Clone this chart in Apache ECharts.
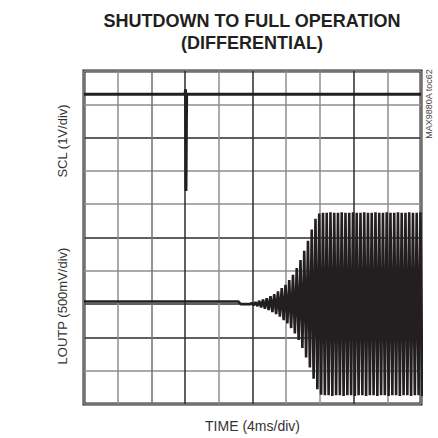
<!DOCTYPE html>
<html>
<head>
<meta charset="utf-8">
<script src="https://cdn.jsdelivr.net/npm/echarts@6/dist/echarts.min.js"></script>
<style>
  html, body { margin: 0; padding: 0; background: #fff; }
  #chart { width: 438px; height: 438px; }
</style>
</head>
<body>
<div id="chart"></div>
<script>
// SCL trace (V) vs time (ms)
const sclTimes = [0, 12.0, 12.05, 12.1, 12.18, 40];
const sclVolts = [3.3, 3.3, 3.45, 0.4, 3.3, 3.3];

// LOUTP before the burst (V)
const loutpQuietTimes = [0, 18.3, 18.6, 19.8];
const loutpQuietVolts = [0.04, 0.04, 0, 0];

// LOUTP burst: peak amplitude of each cycle (V)
const burstStartMs = 19.8;
const burstPeriodMs = 0.445;
const burstPeaks = [
  0.02, 0.03, 0.05, 0.07, 0.09, 0.12, 0.15, 0.19, 0.24, 0.29,
  0.36, 0.44, 0.54, 0.66, 0.80, 0.95, 1.12, 1.28, 1.36, 1.37,
  1.37, 1.38, 1.37, 1.37, 1.38, 1.37, 1.37, 1.38, 1.37, 1.37,
  1.38, 1.37, 1.37, 1.38, 1.37, 1.37, 1.38, 1.37, 1.37, 1.38,
  1.37, 1.37, 1.38, 1.37, 1.37, 1.38
];

const ink = '#231f20';
const gray = '#8e8e8e';
const dark = '#2b2b2b';
const labelFont = 'Liberation Sans, Arial';

// build the line points from the per-cycle peaks
const loutpData = loutpQuietTimes.map((t, i) => [t, loutpQuietVolts[i]]);
burstPeaks.forEach((a, k) => {
  const t0 = burstStartMs + k * burstPeriodMs;
  loutpData.push([t0 + burstPeriodMs * 0.25, a]);
  loutpData.push([t0 + burstPeriodMs * 0.75, -a]);
});
const sclData = sclTimes.map((t, i) => [t, sclVolts[i]]);

// helper axis that only carries a name (for the side labels)
const nameAxis = (gridIndex, name, position, gap) => ({
  type: 'value',
  gridIndex,
  position,
  min: 0, max: 1,
  name,
  nameLocation: 'middle',
  nameRotate: 90,
  nameGap: gap,
  nameTextStyle: { fontFamily: labelFont, fontSize: 13, color: '#333' },
  axisLine: { show: false },
  axisTick: { show: false },
  axisLabel: { show: false },
  splitLine: { show: false }
});
const hiddenX = (gridIndex) => ({ type: 'value', gridIndex, show: false });

// svg renderer: canvas left stray copies of the rotated labels
const chart = echarts.init(document.getElementById('chart'), null, { renderer: 'svg' });

const option = {
  animation: false,
  backgroundColor: '#fff',
  title: {
    text: 'SHUTDOWN TO FULL OPERATION\n(DIFFERENTIAL)',
    left: 247,
    top: 5,
    textAlign: 'center',
    textStyle: {
      fontFamily: 'Liberation Sans Narrow, Liberation Sans, Arial',
      fontWeight: 'bold',
      fontSize: 18,
      lineHeight: 22,
      color: ink
    }
  },
  grid: [
    {
      left: 84, top: 71, width: 337, height: 336,
      show: true,
      borderColor: ink,
      borderWidth: 3,
      backgroundColor: '#fff'
    },
    { left: 84, top: 71, width: 10, height: 140 },
    { left: 84, top: 239, width: 10, height: 134 },
    { left: 411, top: 66, width: 10, height: 76 }
  ],
  xAxis: [
    {
      type: 'value',
      min: 0, max: 40, interval: 4,
      name: 'TIME (4ms/div)',
      nameLocation: 'middle',
      nameGap: 15,
      nameTextStyle: { fontFamily: labelFont, fontSize: 14, color: '#333' },
      axisLine: { show: false },
      axisTick: { show: false },
      axisLabel: { show: false },
      splitLine: {
        show: true,
        lineStyle: {
          width: 1.5,
          color: [gray, gray, '#707070', dark, gray, dark, gray, gray, dark, gray, gray]
        }
      }
    },
    hiddenX(1), hiddenX(2), hiddenX(3)
  ],
  yAxis: [
    {
      type: 'value',
      min: -6, max: 4, interval: 1,
      axisLine: { show: false },
      axisTick: { show: false },
      axisLabel: { show: false },
      splitLine: {
        show: true,
        lineStyle: {
          width: 1.5,
          color: [gray, gray, dark, dark, gray, dark, gray, gray, dark, gray, gray]
        }
      }
    },
    {
      type: 'value',
      min: -1.5, max: 3.5, interval: 0.5,
      show: false,
      splitLine: { show: false }
    },
    nameAxis(1, 'SCL (1V/div)', 'left', 15),
    nameAxis(2, 'LOUTP (500mV/div)', 'left', 15),
    Object.assign(nameAxis(3, 'MAX9880A toc62', 'right', 3), {
      nameTextStyle: { fontFamily: labelFont, fontSize: 9, color: '#444' }
    })
  ],
  series: [
    {
      name: 'SCL',
      type: 'line',
      yAxisIndex: 0,
      data: sclData,
      showSymbol: false,
      lineStyle: { color: ink, width: 3 },
      z: 5
    },
    {
      name: 'LOUTP',
      type: 'line',
      yAxisIndex: 1,
      data: loutpData,
      showSymbol: false,
      lineStyle: { color: ink, width: 2.6 },
      z: 4
    }
  ]
};

chart.setOption(option);
</script>
</body>
</html>
